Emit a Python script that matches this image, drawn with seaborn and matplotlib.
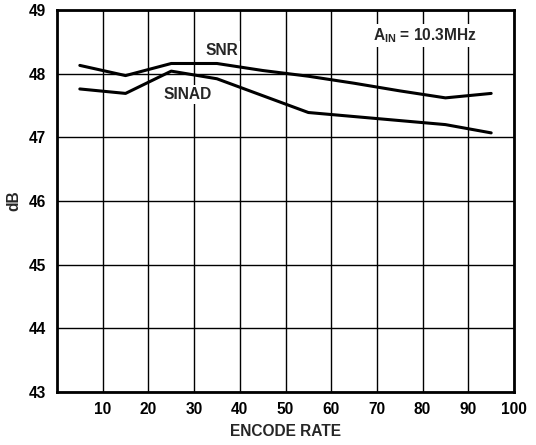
import matplotlib
matplotlib.use("Agg")
import matplotlib.pyplot as plt
import seaborn as sns
import pandas as pd

# Data
encode_rate = [5, 15, 25, 35, 45, 55, 65, 75, 85, 95]
snr = [48.13, 47.97, 48.16, 48.16, 48.05, 47.96, 47.85, 47.73, 47.62, 47.69]
sinad_rate = [5, 15, 25, 35, 55, 85, 95]
sinad = [47.76, 47.69, 48.04, 47.92, 47.39, 47.20, 47.07]

x_ticks = [10, 20, 30, 40, 50, 60, 70, 80, 90, 100]
y_ticks = [43, 44, 45, 46, 47, 48, 49]

sns.set_theme(style="white")
plt.rcParams['font.family'] = ['Liberation Sans', 'DejaVu Sans']
plt.rcParams['font.weight'] = 'bold'
plt.rcParams['mathtext.fontset'] = 'custom'
plt.rcParams['mathtext.rm'] = 'Liberation Sans:bold'
plt.rcParams['mathtext.bf'] = 'Liberation Sans:bold'
plt.rcParams['mathtext.it'] = 'Liberation Sans:bold'

df_snr = pd.DataFrame({"rate": encode_rate, "db": snr})
df_sinad = pd.DataFrame({"rate": sinad_rate, "db": sinad})

fig = plt.figure(figsize=(5.36, 4.45), dpi=100)
ax = fig.add_axes([0.1063, 0.1191, 0.8527, 0.8584])

sns.lineplot(data=df_snr, x="rate", y="db", color="black", linewidth=2.2, ax=ax, zorder=3)
sns.lineplot(data=df_sinad, x="rate", y="db", color="black", linewidth=2.2, ax=ax, zorder=3)

fs = 11.2
ax.set_xlim(0, 100)
ax.set_ylim(43, 49)
ax.set_xticks(x_ticks)
ax.set_yticks(y_ticks)
ax.set_xticklabels([str(t) for t in x_ticks], fontsize=fs, fontweight='bold')
ax.set_yticklabels([str(t) for t in y_ticks], fontsize=fs, fontweight='bold')
ax.tick_params(axis='x', length=0, pad=7, colors='black')
ax.tick_params(axis='y', length=0, pad=8, colors='black')
ax.grid(True, color='black', linewidth=1.0)
ax.set_axisbelow(True)
for s in ax.spines.values():
    s.set_visible(True)
    s.set_color('black')
    s.set_linewidth(2.0)

ax.set_xlabel("ENCODE RATE", fontsize=fs, fontweight='bold', labelpad=5)
ax.set_ylabel("dB", fontsize=fs, fontweight='bold', labelpad=5)

bbox = dict(facecolor='white', edgecolor='none', pad=1.5)
ax.text(36.1, 48.37, "SNR", ha='center', va='center', fontsize=fs, fontweight='bold', bbox=bbox, zorder=4)
ax.text(28.5, 47.68, "SINAD", ha='center', va='center', fontsize=fs, fontweight='bold', bbox=bbox, zorder=4)
ax.text(80.5, 48.6, r"A$_{\rm IN}$ = 10.3MHz", ha='center', va='center', fontsize=fs, fontweight='bold', bbox=bbox, zorder=4)

fig.savefig("out.png", dpi=100)
